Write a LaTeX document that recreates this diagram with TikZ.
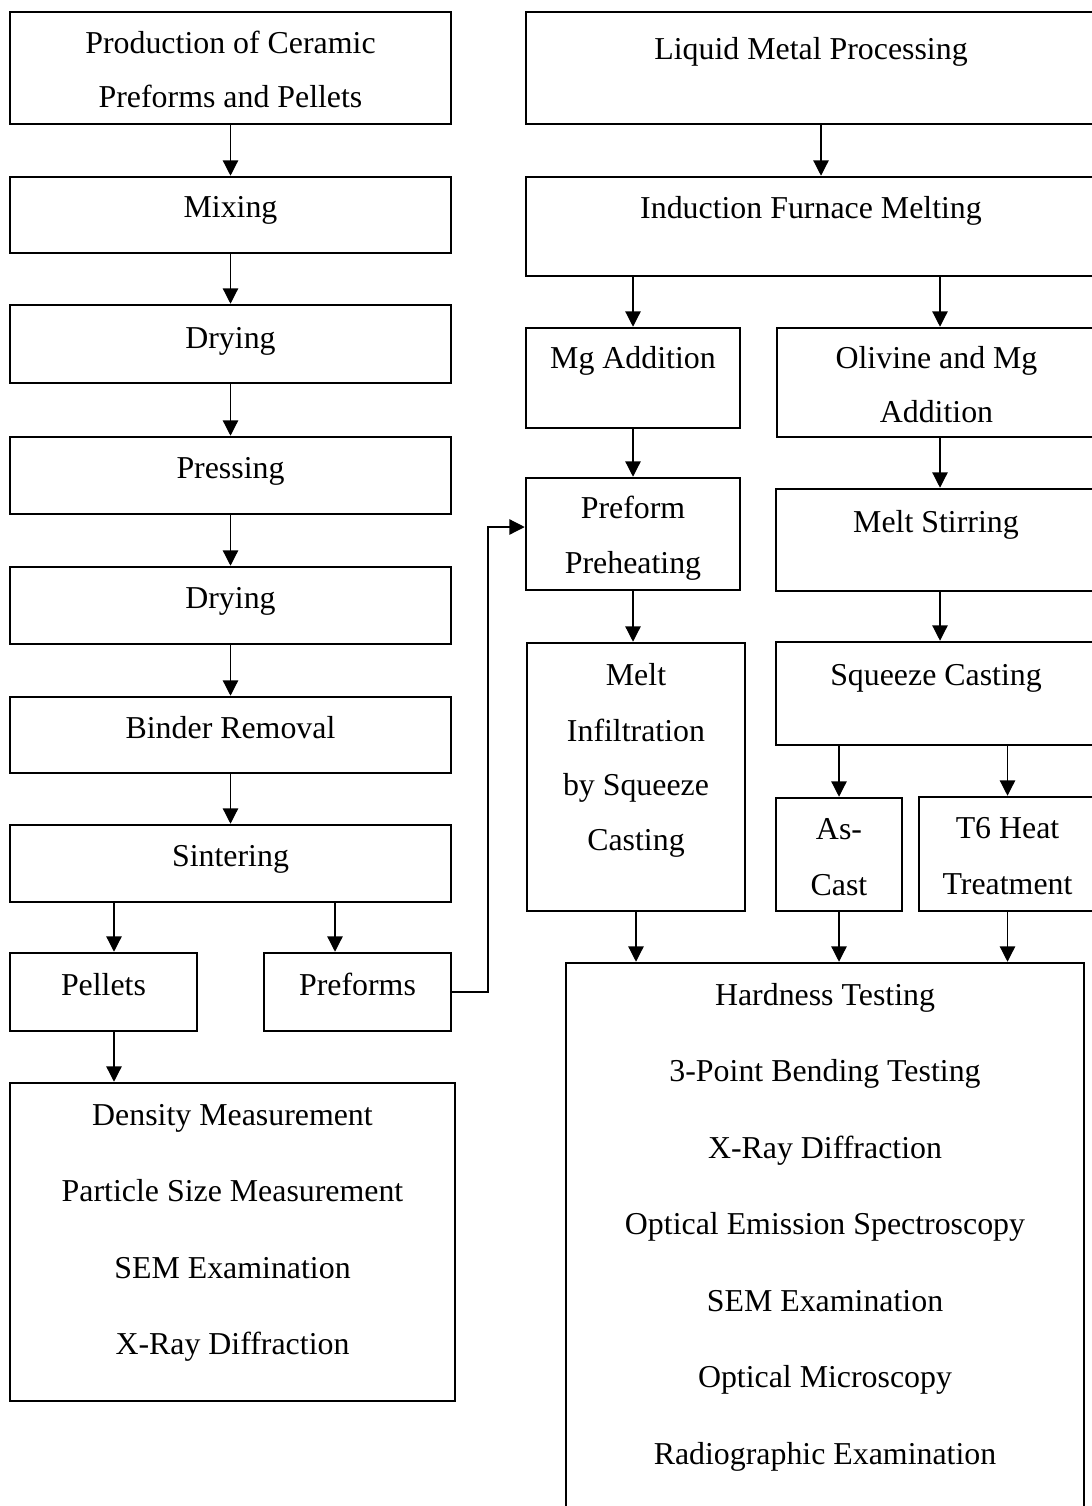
\documentclass[tikz,border=0pt]{standalone}
\usepackage{fontspec}
\setmainfont{Liberation Serif}
\usetikzlibrary{arrows.meta,calc}

\tikzset{
  flowbox/.style={draw=black, line width=1.9pt, rectangle, inner sep=0pt},
  txt/.style={anchor=base, inner sep=0pt, font=\fontsize{23.9pt}{28pt}\selectfont},
  arr/.style={draw=black, line width=0.95pt, -{Triangle[length=11.5pt,width=11.5pt]}},
}

% \mkbox{name}{left}{top}{right}{bottom}, coordinates in pixels (y downwards)
\newcommand\mkbox[5]{%
  \node[flowbox, minimum width={(#4-#2)*0.75pt}, minimum height={(#5-#3)*0.75pt}]
    (#1) at ({(#2+#4)/2},{(#3+#5)/2}) {};}

\begin{document}
\begin{tikzpicture}[x=0.75pt, y=-0.75pt]
  \clip (0,0) rectangle (1092,1506);
  \fill[white] (0,0) rectangle (1092,1506);

  % ---------- ceramic preforms and pellets ----------
  \mkbox{prod}{10}{12}{451}{124}
  \mkbox{mix}{10}{177}{451}{253}
  \mkbox{dryA}{10}{305}{451}{383}
  \mkbox{press}{10}{437}{451}{514}
  \mkbox{dryB}{10}{567}{451}{644}
  \mkbox{bind}{10}{697}{451}{773}
  \mkbox{sint}{10}{825}{451}{902}
  \mkbox{pel}{10}{953}{197}{1031}
  \mkbox{pre}{264}{953}{451}{1031}
  \mkbox{dens}{10}{1083}{455}{1401}

  \node[txt] (prod-a) at (230.5,53) {Production of Ceramic};
  \node[txt] (prod-b) at (230.5,107) {Preforms and Pellets};
  \node[txt] (mix-t) at (230.5,217) {Mixing};
  \node[txt] (dryA-t) at (230.5,348) {Drying};
  \node[txt] (press-t) at (230.5,478) {Pressing};
  \node[txt] (dryB-t) at (230.5,608) {Drying};
  \node[txt] (bind-t) at (230.5,738) {Binder Removal};
  \node[txt] (sint-t) at (230.5,866) {Sintering};
  \node[txt] (pel-t) at (103.5,995) {Pellets};
  \node[txt] (pre-t) at (357.5,995) {Preforms};
  \node[txt] (dens-a) at (232.5,1125) {Density Measurement};
  \node[txt] (dens-b) at (232.5,1201) {Particle Size Measurement};
  \node[txt] (dens-c) at (232.5,1278) {SEM Examination};
  \node[txt] (dens-d) at (232.5,1354) {X-Ray Diffraction};

  % ---------- liquid metal route ----------
  \mkbox{liq}{526}{12}{1096}{124}
  \mkbox{ind}{526}{177}{1096}{276}
  \mkbox{mg}{526}{328}{740}{428}
  \mkbox{oli}{777}{328}{1096}{437}
  \mkbox{preh}{526}{478}{740}{590}
  \mkbox{stir}{776}{489}{1096}{591}
  \mkbox{inf}{527}{643}{745}{911}
  \mkbox{sq}{776}{642}{1096}{745}
  \mkbox{asc}{776}{798}{902}{911}
  \mkbox{tsix}{919}{797}{1096}{911}
  \mkbox{hard}{566}{963}{1084}{1530}

  \node[txt] (liq-t) at (811,59) {Liquid Metal Processing};
  \node[txt] (ind-t) at (811,218) {Induction Furnace Melting};
  \node[txt] (mg-t) at (633,368) {Mg Addition};
  \node[txt] (oli-a) at (936.5,368) {Olivine and Mg};
  \node[txt] (oli-b) at (936.5,422) {Addition};
  \node[txt] (preh-a) at (633,518) {Preform};
  \node[txt] (preh-b) at (633,573) {Preheating};
  \node[txt] (stir-t) at (936,532) {Melt Stirring};
  \node[txt] (inf-a) at (636,685) {Melt};
  \node[txt] (inf-b) at (636,741) {Infiltration};
  \node[txt] (inf-c) at (636,795) {by Squeeze};
  \node[txt] (inf-d) at (636,850) {Casting};
  \node[txt] (sq-t) at (936,685) {Squeeze Casting};
  \node[txt] (asc-a) at (839,839) {As-};
  \node[txt] (asc-b) at (839,895) {Cast};
  \node[txt] (tsix-a) at (1007.5,838) {T6 Heat};
  \node[txt] (tsix-b) at (1007.5,894) {Treatment};
  \node[txt] (hard-a) at (825,1005) {Hardness Testing};
  \node[txt] (hard-b) at (825,1081.5) {3-Point Bending Testing};
  \node[txt] (hard-c) at (825,1158) {X-Ray Diffraction};
  \node[txt] (hard-d) at (825,1234.5) {Optical Emission Spectroscopy};
  \node[txt] (hard-e) at (825,1311) {SEM Examination};
  \node[txt] (hard-f) at (825,1387.5) {Optical Microscopy};
  \node[txt] (hard-g) at (825,1464) {Radiographic Examination};

  % ---------- connectors ----------
  \coordinate (xa) at (114,0);
  \coordinate (xb) at (335,0);
  \coordinate (xl) at (821,0);
  \coordinate (xr) at (940,0);
  \coordinate (bend) at (488,527);

  \draw[arr] (prod.south) -- (mix.north);
  \draw[arr] (mix.south) -- (dryA.north);
  \draw[arr] (dryA.south) -- (press.north);
  \draw[arr] (press.south) -- (dryB.north);
  \draw[arr] (dryB.south) -- (bind.north);
  \draw[arr] (bind.south) -- (sint.north);
  \draw[arr] (sint.south -| xa) -- (pel.north -| xa);
  \draw[arr] (sint.south -| xb) -- (pre.north -| xb);
  \draw[arr] (pel.south -| xa) -- (dens.north -| xa);
  \draw[arr] (pre.east) -| (bend) -- (preh.west |- bend);

  \draw[arr] (liq.south -| xl) -- (ind.north -| xl);
  \draw[arr] (ind.south -| mg.north) -- (mg.north);
  \draw[arr] (ind.south -| xr) -- (oli.north -| xr);
  \draw[arr] (mg.south) -- (preh.north);
  \draw[arr] (oli.south -| xr) -- (stir.north -| xr);
  \draw[arr] (preh.south) -- (preh.south |- inf.north);
  \draw[arr] (stir.south -| xr) -- (sq.north -| xr);
  \draw[arr] (sq.south -| asc.north) -- (asc.north);
  \draw[arr] (sq.south -| tsix.north) -- (tsix.north);
  \draw[arr] (inf.south) -- (inf.south |- hard.north);
  \draw[arr] (asc.south) -- (asc.south |- hard.north);
  \draw[arr] (tsix.south) -- (tsix.south |- hard.north);
\end{tikzpicture}
\end{document}
